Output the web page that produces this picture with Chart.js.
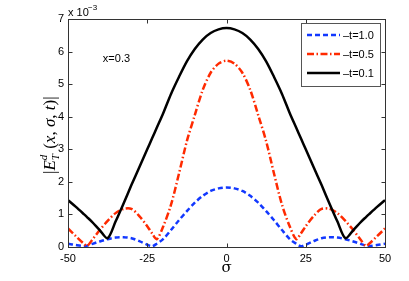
<!DOCTYPE html>
<html>
<head>
<meta charset="utf-8">
<script src="https://cdn.jsdelivr.net/npm/chart.js@4"></script>
<style>
html, body { margin: 0; padding: 0; background: #fff; }
#wrap { width: 409px; height: 281px; }
</style>
</head>
<body>
<div id="wrap"><canvas id="fieldChart"></canvas></div>
<script>
// sigma positions and |E_T^d| values (in units of 1e-3)
const sigma = [-50, -47.5, -45, -44, -42.5, -40, -37.5, -35, -32.5, -30, -27.5, -25, -23.5, -22, -20, -17.5, -15, -12.5, -10, -7.5, -5, -2.5,
    0, 2.5, 5, 7.5, 10, 12.5, 15, 17.5, 20, 22, 23.5, 25, 27.5, 30, 32.5, 35, 37.5, 40, 42.5, 44, 45, 47.5, 50];
const t10 = [0.10, 0.06, 0.03, 0.04, 0.09, 0.17, 0.24, 0.29, 0.30, 0.27, 0.18, 0.07, 0.02, 0.10, 0.24, 0.52, 0.82, 1.10, 1.36, 1.57, 1.72, 1.80,
    1.83, 1.80, 1.72, 1.57, 1.36, 1.10, 0.82, 0.52, 0.24, 0.10, 0.02, 0.07, 0.18, 0.27, 0.30, 0.29, 0.24, 0.17, 0.09, 0.04, 0.03, 0.06, 0.10];
const t05 = [0.57, 0.33, 0.10, 0.03, 0.20, 0.52, 0.80, 1.04, 1.17, 1.17, 0.95, 0.64, 0.42, 0.24, 0.62, 1.30, 2.25, 3.25, 4.05, 4.82, 5.35, 5.63,
    5.72, 5.63, 5.35, 4.82, 4.05, 3.25, 2.25, 1.30, 0.62, 0.24, 0.42, 0.64, 0.95, 1.17, 1.17, 1.04, 0.80, 0.52, 0.20, 0.03, 0.10, 0.33, 0.57];
const t01 = [1.44, 1.23, 1.01, 0.92, 0.78, 0.52, 0.27, 0.78, 1.33, 1.90, 2.45, 3.00, 3.33, 3.66, 4.10, 4.70, 5.22, 5.70, 6.08, 6.37, 6.57, 6.68,
    6.72, 6.68, 6.57, 6.37, 6.08, 5.70, 5.22, 4.70, 4.10, 3.66, 3.33, 3.00, 2.45, 1.90, 1.33, 0.78, 0.27, 0.52, 0.78, 0.92, 1.01, 1.23, 1.44];
const xTicks = [-50, -25, 0, 25, 50];
const yTicks = [0, 1, 2, 3, 4, 5, 6, 7];
const seriesLabels = ['\u2013t=1.0', '\u2013t=0.5', '\u2013t=0.1'];

const toPoints = vals => sigma.map((s, i) => ({ x: s, y: vals[i] }));

// frame with inward ticks on all four sides
const framePlugin = {
    id: 'frame',
    afterDatasetsDraw(chart) {
        const { ctx, chartArea: a, scales } = chart;
        ctx.save();
        ctx.strokeStyle = '#333';
        ctx.lineWidth = 1;
        const l = Math.round(a.left) + 0.5, r = Math.round(a.right) + 0.5;
        const t = Math.round(a.top) + 0.5, b = Math.round(a.bottom) + 0.5;
        ctx.strokeRect(l, t, r - l, b - t);
        ctx.beginPath();
        xTicks.forEach(v => {
            const px = Math.round(scales.x.getPixelForValue(v)) + 0.5;
            ctx.moveTo(px, b); ctx.lineTo(px, b - 4);
            ctx.moveTo(px, t); ctx.lineTo(px, t + 4);
        });
        yTicks.forEach(v => {
            const py = Math.round(scales.y.getPixelForValue(v)) + 0.5;
            ctx.moveTo(l, py); ctx.lineTo(l + 4, py);
            ctx.moveTo(r, py); ctx.lineTo(r - 4, py);
        });
        ctx.stroke();
        ctx.restore();
    }
};

// titles, exponent, annotation and legend box
const textPlugin = {
    id: 'texts',
    afterDraw(chart) {
        const { ctx, chartArea: a, scales } = chart;
        ctx.save();
        ctx.fillStyle = '#000';

        // exponent marker
        ctx.font = '11px "Liberation Sans", Arial, sans-serif';
        ctx.textAlign = 'left';
        ctx.textBaseline = 'alphabetic';
        ctx.fillText('x 10', a.left, 16);
        ctx.font = '8px "Liberation Sans", Arial, sans-serif';
        ctx.fillText('\u22123', a.left + 20, 10);

        // annotation
        ctx.font = '11px "Liberation Sans", Arial, sans-serif';
        ctx.fillText('x=0.3', scales.x.getPixelForValue(-39), scales.y.getPixelForValue(5.68));

        // x title
        ctx.font = '15px "DejaVu Serif", "Liberation Serif", serif';
        ctx.textAlign = 'center';
        ctx.fillText('\u03c3', (a.left + a.right) / 2, 272);

        // y title, rotated
        ctx.translate(55, (a.top + a.bottom) / 2);
        ctx.rotate(-Math.PI / 2);
        ctx.textAlign = 'left';
        const big = '17px "Liberation Serif", serif';
        const bigIt = 'italic 17px "Liberation Serif", serif';
        const small = 'italic 11px "Liberation Serif", serif';
        const parts = [
            ['|', big, 0], ['E', bigIt, 0], ['d', small, -8], ['T', small, 4, true],
            [' (', big, 0], ['x', bigIt, 0], [', ', big, 0], ['\u03c3', bigIt, 0],
            [', ', big, 0], ['t', bigIt, 0], [')', big, 0], ['|', big, 0]
        ];
        let total = 0;
        parts.forEach(p => { ctx.font = p[1]; if (!p[3]) total += ctx.measureText(p[0]).width; });
        let cx = -total / 2 - 3;
        let supW = 0;
        parts.forEach(p => {
            ctx.font = p[1];
            const w = ctx.measureText(p[0]).width;
            if (p[3]) {
                // subscript stacked under the superscript
                ctx.fillText(p[0], cx - supW, p[2]);
                cx = cx - supW + Math.max(w, supW) + 1;
                return;
            }
            ctx.fillText(p[0], cx, p[2]);
            if (p[2] < 0) { supW = w; }
            cx += w;
        });
        ctx.setTransform(1, 0, 0, 1, 0, 0);

        // legend box
        const bx = 301, by = 23, bw = 79, bh = 63;
        ctx.fillStyle = '#fff';
        ctx.fillRect(bx, by, bw, bh);
        ctx.strokeStyle = '#555';
        ctx.lineWidth = 1;
        ctx.strokeRect(bx + 0.5, by + 0.5, bw, bh);
        chart.data.datasets.forEach((ds, i) => {
            const ly = 35 + i * 19;
            ctx.beginPath();
            ctx.strokeStyle = ds.borderColor;
            ctx.lineWidth = ds.borderWidth;
            ctx.setLineDash(ds.borderDash || []);
            ctx.moveTo(307, ly);
            ctx.lineTo(340, ly);
            ctx.stroke();
            ctx.setLineDash([]);
            ctx.fillStyle = '#000';
            ctx.font = '11px "Liberation Sans", Arial, sans-serif';
            ctx.textAlign = 'left';
            ctx.textBaseline = 'middle';
            ctx.fillText(ds.label, 343, ly + 1);
        });
        ctx.restore();
    }
};

const fieldChart = new Chart(document.getElementById('fieldChart'), {
    type: 'line',
    data: {
        datasets: [
            { label: seriesLabels[0], data: toPoints(t10), borderColor: '#1238ff', borderWidth: 2.5, borderDash: [5, 3], order: 2 },
            { label: seriesLabels[1], data: toPoints(t05), borderColor: '#ff2a00', borderWidth: 2.5, borderDash: [7, 2.5, 1.5, 2.5], order: 1 },
            { label: seriesLabels[2], data: toPoints(t01), borderColor: '#000000', borderWidth: 2.5, order: 0 }
        ]
    },
    options: {
        responsive: true,
        maintainAspectRatio: false,
        animation: false,
        elements: { point: { radius: 0 }, line: { tension: 0.3, fill: false } },
        layout: { padding: { left: 0, right: 24, top: 19, bottom: 0 } },
        scales: {
            x: {
                type: 'linear', min: -50, max: 50,
                afterBuildTicks: s => { s.ticks = xTicks.map(v => ({ value: v })); },
                afterFit: s => { s.height = 34; },
                grid: { display: false, drawTicks: false },
                border: { display: false },
                ticks: { padding: 5, color: '#000', font: { family: '"Liberation Sans", Arial, sans-serif', size: 11 } }
            },
            y: {
                min: 0, max: 7,
                afterBuildTicks: s => { s.ticks = yTicks.map(v => ({ value: v })); },
                afterFit: s => { s.width = 68; },
                grid: { display: false, drawTicks: false },
                border: { display: false },
                ticks: { padding: 4, color: '#000', font: { family: '"Liberation Sans", Arial, sans-serif', size: 11 } }
            }
        },
        plugins: { legend: { display: false }, tooltip: { enabled: false } }
    },
    plugins: [framePlugin, textPlugin]
});
</script>
</body>
</html>
